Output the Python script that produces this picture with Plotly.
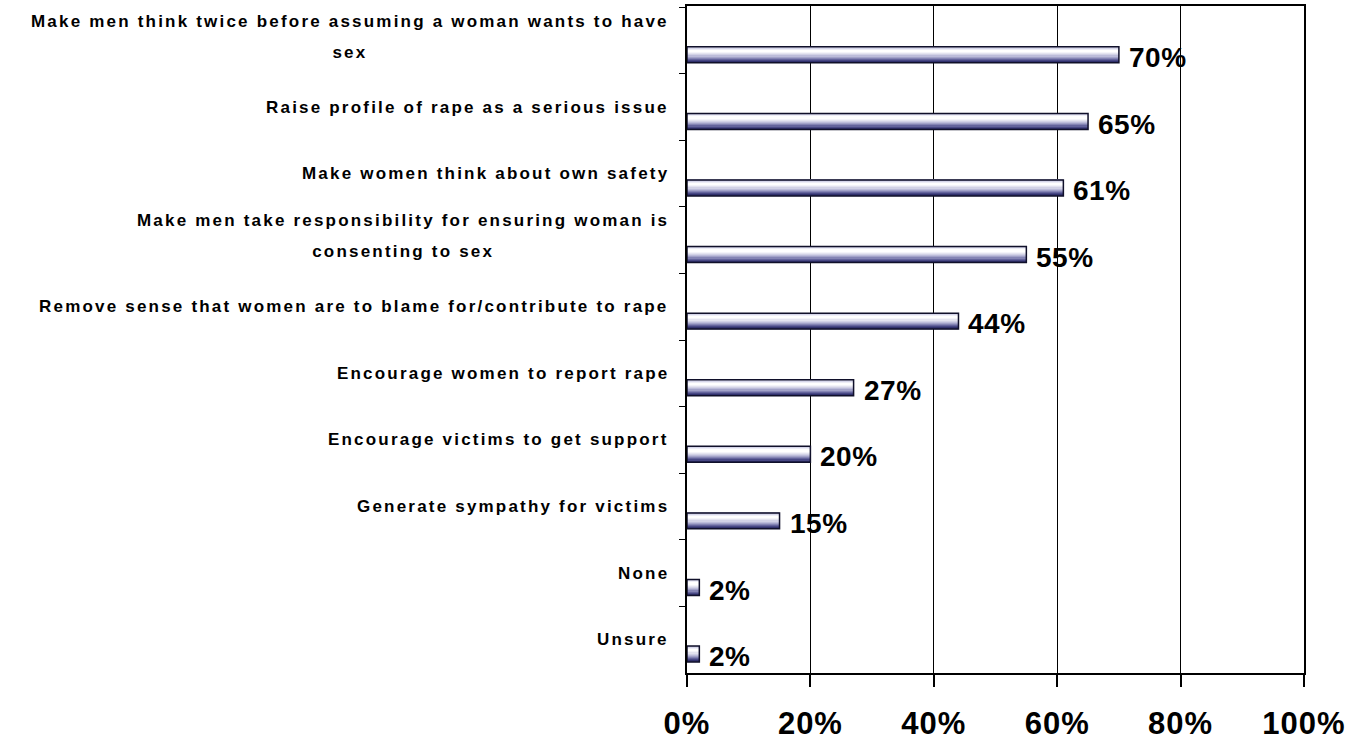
import plotly.graph_objects as go

# Survey responses: what the campaign would achieve
categories = [
    "Make men think twice before assuming a woman wants to have<br>sex",
    "Raise profile of rape as a serious issue",
    "Make women think about own safety",
    "Make men take responsibility for ensuring woman is<br>consenting to sex",
    "Remove sense that women are to blame for/contribute to rape",
    "Encourage women to report rape",
    "Encourage victims to get support",
    "Generate sympathy for victims",
    "None",
    "Unsure",
]
values = [70, 65, 61, 55, 44, 27, 20, 15, 2, 2]
x_ticks = [0, 20, 40, 60, 80, 100]

FONT = "Liberation Sans, Arial, sans-serif"

# Shaded cylinder look: thin stripes from top edge to bottom edge of each bar
stripe_colors = [
    "#b8b8d6", "#d6d6ea", "#eeeef7", "#ffffff", "#ffffff", "#f4f4fa",
    "#e4e4f0", "#d2d2e6", "#bcbcda", "#a2a2c8", "#8484b4", "#64649c",
    "#484884", "#30306c",
]
BAR_OFFSET = 0.095   # bars sit below the category centre
BAR_WIDTH = 0.24
sw = BAR_WIDTH / len(stripe_colors)

fig = go.Figure()
for i, c in enumerate(stripe_colors):
    fig.add_trace(go.Bar(
        x=values, y=categories, orientation="h",
        width=sw * 1.05, offset=BAR_OFFSET + i * sw,
        marker=dict(color=c, line=dict(width=0)),
        hoverinfo="skip", showlegend=False,
    ))

# Outline of each bar
fig.add_trace(go.Bar(
    x=values, y=categories, orientation="h",
    width=BAR_WIDTH, offset=BAR_OFFSET,
    marker=dict(color="rgba(0,0,0,0)", line=dict(color="#10102a", width=1.5)),
    showlegend=False,
))

annotations = []
# Category labels, centred lines, right edge just left of the axis
for cat in categories:
    lines = cat.split("<br>")
    txt = "<br>".join(
        f"<span style='font-size:17px;letter-spacing:2.2px'>{ln}</span>" for ln in lines
    )
    annotations.append(dict(
        x=0, xref="paper", y=cat, yref="y",
        xanchor="right", yanchor="middle", xshift=-16,
        yshift=4 if len(lines) > 1 else 0,
        text=txt, align="center", showarrow=False,
        font=dict(family=FONT, size=24, color="#000000", weight="bold"),
    ))
# Value labels to the right of each bar
for cat, v in zip(categories, values):
    annotations.append(dict(
        x=v, xref="x", y=cat, yref="y",
        xanchor="left", yanchor="middle", xshift=8, yshift=-17,
        text=f"<span style='letter-spacing:0.5px'>{v}%</span>", showarrow=False,
        font=dict(family=FONT, size=28, color="#000000", weight="bold"),
    ))

fig.update_layout(
    width=1364, height=742,
    margin=dict(l=687, r=60, t=6, b=69),
    paper_bgcolor="white", plot_bgcolor="white",
    barmode="overlay",
    annotations=annotations,
    xaxis=dict(
        range=[0, 100], tickvals=x_ticks,
        ticktext=[f"<span style='letter-spacing:1px'>{t}%</span>" for t in x_ticks],
        automargin=False,
        showgrid=True, gridcolor="#000000", gridwidth=1,
        showline=True, linecolor="#000000", linewidth=2, mirror=True,
        ticks="outside", ticklen=12, tickcolor="#000000", tickwidth=1.5,
        ticklabelstandoff=10,
        tickfont=dict(family=FONT, size=31, color="#000000", weight="bold"),
        zeroline=False,
    ),
    yaxis=dict(
        type="category", autorange="reversed", automargin=False,
        showticklabels=False, showgrid=False,
        showline=True, linecolor="#000000", linewidth=2, mirror=True,
        ticks="outside", ticklen=6, tickcolor="#000000", tickwidth=1,
        tickson="boundaries",
    ),
)

fig.write_html("out.html")
